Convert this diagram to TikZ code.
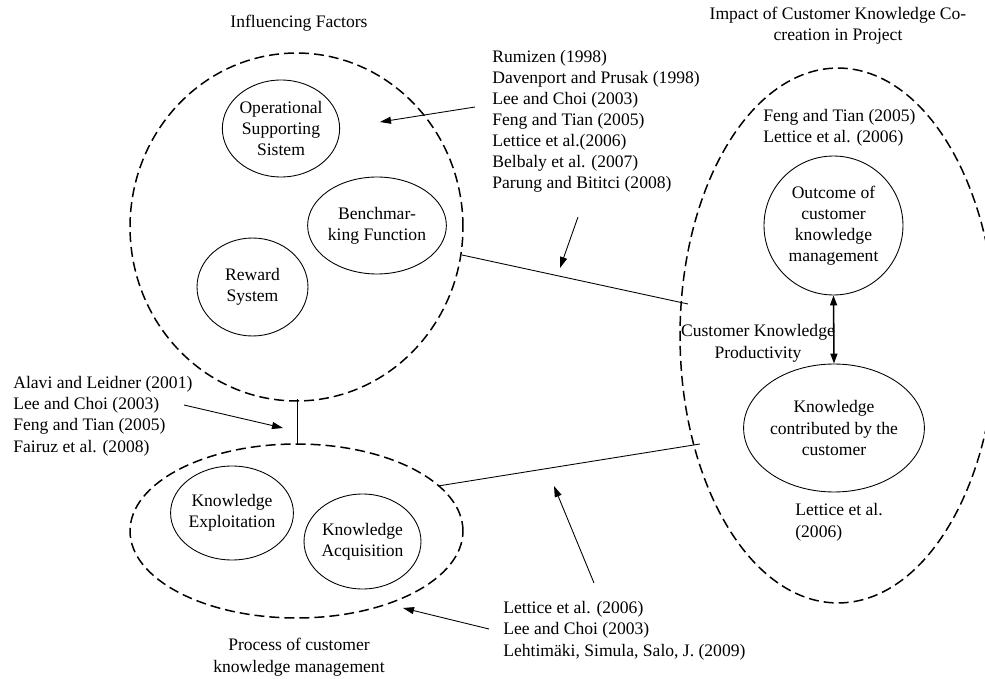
\documentclass[tikz,border=0pt]{standalone}
\usepackage{fontspec}
\setmainfont{Liberation Serif}
\usetikzlibrary{shapes.geometric,arrows.meta}
\begin{document}
\begin{tikzpicture}[x=0.02cm,y=-0.02cm,
  every node/.style={font=\fontsize{10}{12}\selectfont, inner sep=0pt},
  dashring/.style={draw, ellipse, line width=0.85pt, dash pattern=on 0.2cm off 0.1cm},
  bubble/.style={draw, ellipse, line width=0.5pt, align=center},
  reflist/.style={anchor=base west, align=left},
  caption/.style={anchor=base, align=center},
  link/.style={line width=0.5pt},
  ptr/.style={line width=0.5pt, -{Triangle[length=0.22cm,width=0.14cm]}},
  dbl/.style={line width=0.9pt, {Triangle[length=0.2cm,width=0.14cm]}-{Triangle[length=0.2cm,width=0.14cm]}}
]
\useasboundingbox (0,0) rectangle (985,679);
\clip (0,0) rectangle (985,679);

% big groups
\node[dashring, minimum width=6.66cm, minimum height=6.96cm] (inf) at (296.5,227) {};
\node[dashring, minimum width=6.66cm, minimum height=3.48cm] (proc) at (296.5,531) {};
\node[dashring, minimum width=6.32cm, minimum height=10.7cm] (imp) at (838,335.5) {};

% inner bubbles
\node[bubble, minimum width=2.2cm, minimum height=1.94cm] (oss) at (281,128.5) {Operational\\Supporting\\Sistem};
\node[bubble, minimum width=2.2cm, minimum height=1.94cm] (bench) at (377,225.5) {Benchmar-\\king Function};
\node[bubble, minimum width=2.22cm, minimum height=1.96cm] (rew) at (252.5,287) {Reward\\System};
\node[bubble, minimum width=2.32cm, minimum height=1.88cm] (kexp) at (232,513) {Knowledge\\Exploitation};
\node[bubble, minimum width=2.34cm, minimum height=1.9cm] (kacq) at (362.5,541.5) {Knowledge\\Acquisition};
\node[bubble, minimum width=2.78cm, minimum height=2.78cm] (outc) at (833.5,225.5) {Outcome of\\customer\\knowledge\\management};
\node[bubble, minimum width=2.76cm, minimum height=2.56cm] (kcon) at (834,428) {Knowledge\\contributed by the\\customer};

% captions (anchored at the baseline of their last line)
\node[caption] (tinf) at (299,28) {Influencing Factors};
\node[caption] (timp) at (838,41) {Impact of Customer Knowledge Co-\\creation in Project};
\node[caption] (tproc) at (299,672) {Process of customer\\knowledge management};
\node[caption] (tckp) at (758,358) {Customer Knowledge\\Productivity};

% reference lists (anchored at the baseline of their last line)
\node[reflist] (r1) at (492,189) {Rumizen (1998)\\Davenport and Prusak (1998)\\Lee and Choi (2003)\\Feng and Tian (2005)\\Lettice et al.(2006)\\Belbaly et al. (2007)\\Parung and Bititci (2008)};
\node[reflist] (r2) at (763,143) {Feng and Tian (2005)\\Lettice et al. (2006)};
\node[reflist] (r3) at (13,452) {Alavi and Leidner (2001)\\Lee and Choi (2003)\\Feng and Tian (2005)\\Fairuz et al. (2008)};
\node[reflist] (r4) at (503,656) {Lettice et al. (2006)\\Lee and Choi (2003)\\Lehtimäki, Simula, Salo, J. (2009)};
\node[reflist] (r5) at (795,537) {Lettice et al.\\(2006)};

% connector end points
\coordinate (a1) at (462,255);
\coordinate (a2) at (688,304);
\coordinate (b1) at (438,486);
\coordinate (b2) at (700,444);
\coordinate (c1) at (297,399);
\coordinate (c2) at (297,444);
\coordinate (p1s) at (475,107); \coordinate (p1e) at (380,122);
\coordinate (p2s) at (578,217); \coordinate (p2e) at (560,268);
\coordinate (p3s) at (184,405); \coordinate (p3e) at (283,428);
\coordinate (p4s) at (594,583); \coordinate (p4e) at (554,486);
\coordinate (p5s) at (489,629); \coordinate (p5e) at (403,608);

% connectors
\draw[link] (a1) -- (a2);
\draw[link] (b1) -- (b2);
\draw[link] (c1) -- (c2);
\draw[dbl] (outc.south) -- (kcon.north);

% pointers
\draw[ptr] (p1s) -- (p1e);
\draw[ptr] (p2s) -- (p2e);
\draw[ptr] (p3s) -- (p3e);
\draw[ptr] (p4s) -- (p4e);
\draw[ptr] (p5s) -- (p5e);
\end{tikzpicture}
\end{document}
